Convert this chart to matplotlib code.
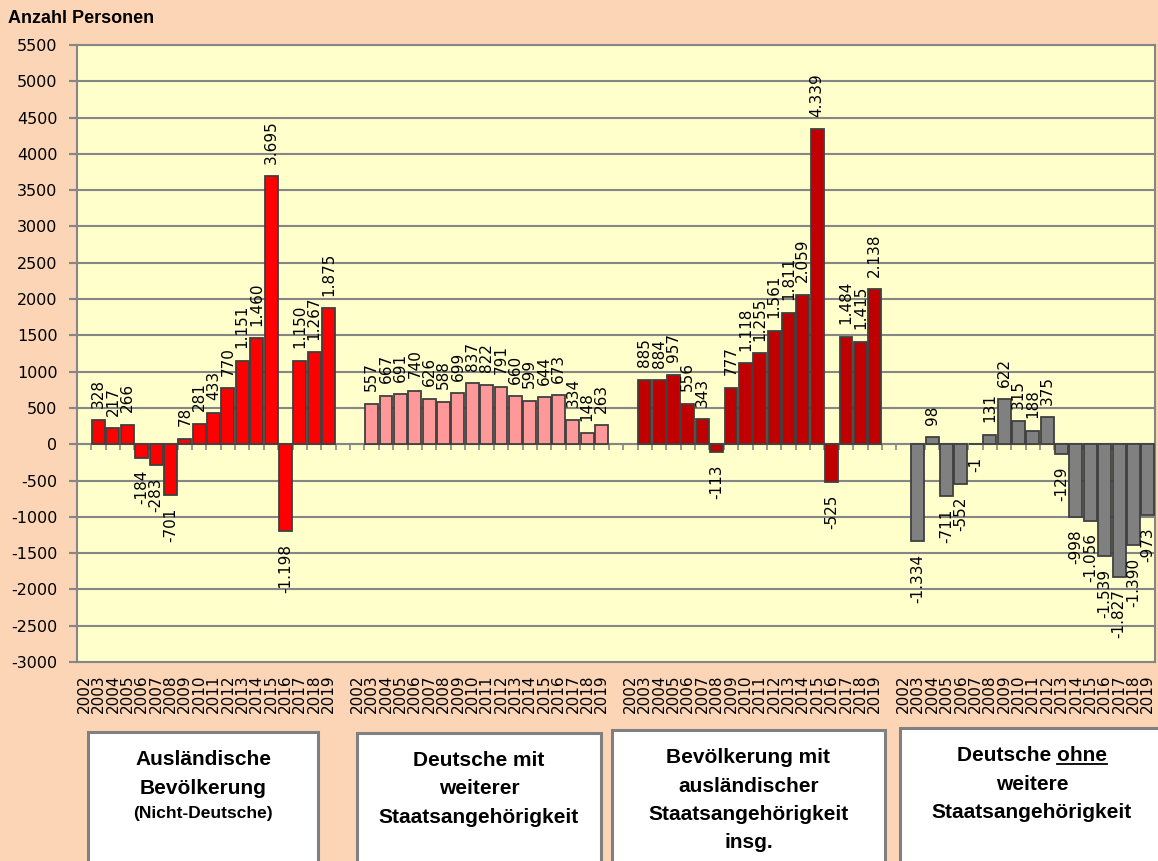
import numpy as np
import matplotlib.pyplot as plt
from matplotlib.patches import Rectangle
from matplotlib.lines import Line2D

plt.rcParams['axes.unicode_minus'] = False

W, H = 1158, 861

years = [str(y) for y in range(2002, 2020)]

# Veraenderung ggue. Vorjahr, Werte fuer 2003-2019 (2002 ohne Wert)
auslaender = [328, 217, 266, -184, -283, -701, 78, 281, 433, 770, 1151, 1460,
              3695, -1198, 1150, 1267, 1875]
deutsche_mit = [557, 667, 691, 740, 626, 588, 699, 837, 822, 791, 660, 599,
                644, 673, 334, 148, 263]
ausl_insg = [885, 884, 957, 556, 343, -113, 777, 1118, 1255, 1561, 1811, 2059,
             4339, -525, 1484, 1415, 2138]
deutsche_ohne = [-1334, 98, -711, -552, -1, 131, 622, 315, 188, 375, -129,
                 -998, -1056, -1539, -1827, -1390, -973]

series = [auslaender, deutsche_mit, ausl_insg, deutsche_ohne]
colors = ['#FF0000', '#FF9999', '#C00000', '#808080']

yticks = list(range(-3000, 5501, 500))


def fmt(v):
    return f"{v:,}".replace(",", ".")


fig = plt.figure(figsize=(W / 100, H / 100), dpi=100)
fig.patch.set_facecolor('#FBD5B5')
ax = fig.add_axes([77 / W, 1 - 662 / H, (1155 - 77) / W, (662 - 45) / H])
ax.set_facecolor('#FFFFCC')

n_years = len(years)
step = n_years + 1   # one empty slot between groups
tick_pos = []
tick_lab = []
for g, vals in enumerate(series):
    start = g * step
    x = np.arange(start + 1, start + 1 + len(vals))
    bars = ax.bar(x, vals, width=0.9, color=colors[g], edgecolor='#404040',
                  linewidth=1.3, zorder=3)
    ax.bar_label(bars, labels=[fmt(v) for v in vals], rotation=90,
                 padding=9, fontsize=11, color='black', zorder=4)
    tick_pos += list(range(start, start + n_years))
    tick_lab += years

ax.set_xlim(-0.5, 4 * step - 1.5)
ax.set_ylim(-3000, 5500)
ax.set_yticks(yticks)
ax.tick_params(axis='y', labelsize=11.5, length=6, width=1.5,
               color='#868686', pad=8)
ax.set_xticks(tick_pos)
ax.set_xticklabels(tick_lab, rotation=90, fontsize=11, va='top')
ax.tick_params(axis='x', length=0, pad=9)

ax.grid(axis='y', color='#868686', linewidth=1.5)
ax.set_axisbelow(True)
for s in ax.spines.values():
    s.set_color('#868686')
    s.set_linewidth(1.5)

# Nulllinie mit Kategorie-Teilstrichen
sec = ax.secondary_xaxis(3000 / 8500)
sec.set_xticks(np.arange(-0.5, 4 * step - 1, 1))
sec.tick_params(axis='x', labelbottom=False, length=4, width=1.2,
                color='#868686')
sec.spines['bottom'].set_color('#868686')
sec.spines['bottom'].set_linewidth(1.5)

fig.text(8 / W, 1 - 23 / H, 'Anzahl Personen', fontsize=13,
         fontweight='bold', family='Liberation Sans', va='baseline',
         ha='left')

# Beschriftungsboxen unter der Grafik
boxes = [
    (88, 318, 732, ['Ausländische', 'Bevölkerung', '(Nicht-Deutsche)']),
    (357, 601, 733, ['Deutsche mit', 'weiterer', 'Staatsangehörigkeit']),
    (612, 885, 730, ['Bevölkerung mit', 'ausländischer',
                     'Staatsangehörigkeit', 'insg.']),
    (900, 1164, 728, ['Deutsche ohne', 'weitere', 'Staatsangehörigkeit']),
]
renderer = fig.canvas.get_renderer()
for x0, x1, top, lines in boxes:
    fig.add_artist(Rectangle((x0 / W, -0.05), (x1 - x0) / W,
                             1 - top / H + 0.05, transform=fig.transFigure,
                             facecolor='white', edgecolor='#808080',
                             linewidth=2.2))
    cx = (x0 + x1) / 2 / W
    for i, line in enumerate(lines):
        base = top + 33 + i * 28.5
        size = 15
        if line.startswith('('):
            size = 12.5
            base -= 4
        t = fig.text(cx, 1 - base / H, line, fontsize=size,
                     fontweight='bold', family='Liberation Sans',
                     ha='center', va='baseline')
        if line == 'Deutsche ohne':
            bb = t.get_window_extent(renderer)
            t2 = fig.text(0, 0, 'ohne', fontsize=size, fontweight='bold',
                          family='Liberation Sans')
            w2 = t2.get_window_extent(renderer).width
            t2.remove()
            yl = 1 - (base + 3) / H
            fig.add_artist(Line2D([(bb.x1 - w2) / W, bb.x1 / W], [yl, yl],
                                  transform=fig.transFigure, color='black',
                                  linewidth=1.3))

fig.savefig('out.png', dpi=100, facecolor=fig.get_facecolor())
